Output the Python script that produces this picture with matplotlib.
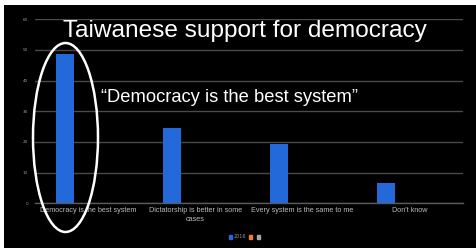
import matplotlib
matplotlib.use('Agg')
import matplotlib.pyplot as plt
from matplotlib.patches import Rectangle, Ellipse

# data
categories = ['Democracy is the best system', 'Dictatorship is better in some\ncases',
              'Every system is the same to me', "Don't know"]
values_2016 = [48.7, 24.4, 19.3, 6.5]
legend_labels = ['2016', '', '']
yticks = [0, 10, 20, 30, 40, 50, 60]

W, H = 477, 248
fig = plt.figure(figsize=(W / 100, H / 100), dpi=100)
fig.patch.set_facecolor('white')
# black slide, with a thin white margin top and left
fig.patches.append(Rectangle((4 / W, 0), 1, 1 - 5 / H, transform=fig.transFigure,
                             facecolor='black', edgecolor='none', zorder=-10))

ax = fig.add_axes([35 / W, 44.7 / H, 428 / W, 184.2 / H])
ax.set_facecolor('none')
x = range(len(categories))
ax.bar([i - 0.22 for i in x], values_2016, width=0.17, color='#2469d9', zorder=3)
ax.set_xlim(-0.5, len(categories) - 0.5)
ax.set_ylim(0, 60)
ax.set_yticks(yticks)
ax.set_yticklabels([str(t) for t in yticks], fontsize=3, color='#999999')
ax.set_xticks(list(x))
ax.set_xticklabels(categories, fontsize=5.2, color='#bbbbbb', family='Liberation Sans',
                   linespacing=1.4)
ax.tick_params(axis='both', length=0, pad=3)
ax.tick_params(axis='y', pad=5)
ax.yaxis.grid(True, color='#4a4a4a', linewidth=1)
ax.set_axisbelow(True)
for s in ['top', 'right', 'left']:
    ax.spines[s].set_visible(False)
ax.spines['bottom'].set_color('#5a5a5a')
ax.spines['bottom'].set_linewidth(1)

# slide text
fig.text(245 / W, 1 - 31 / H, 'Taiwanese support for democracy', color='white',
         fontsize=17.6, family='Liberation Sans', ha='center', va='center')
fig.text(230 / W, 1 - 97 / H, '\u201cDemocracy is the best system\u201d', color='white',
         fontsize=13.2, family='Liberation Sans', ha='center', va='center')

# hand-drawn style ellipse around the first bar
fig.patches.append(Ellipse((65.5 / W, 1 - 137.5 / H), 65 / W, 189 / H,
                           transform=fig.transFigure, facecolor='none',
                           edgecolor='white', linewidth=1.8, zorder=5))

# legend like the Excel one
handles = [Rectangle((0, 0), 1, 1, color=c) for c in ['#2469d9', '#ed7d31', '#a5a5a5']]
leg = fig.legend(handles, legend_labels, loc='center', bbox_to_anchor=(245 / W, 1 - 237 / H),
                 ncol=3, frameon=False, fontsize=3.5, handlelength=0.7, handleheight=0.7,
                 handletextpad=0.3, columnspacing=0.6)
for t in leg.get_texts():
    t.set_color('#999999')

fig.savefig('out.png', dpi=100, facecolor=fig.get_facecolor())
